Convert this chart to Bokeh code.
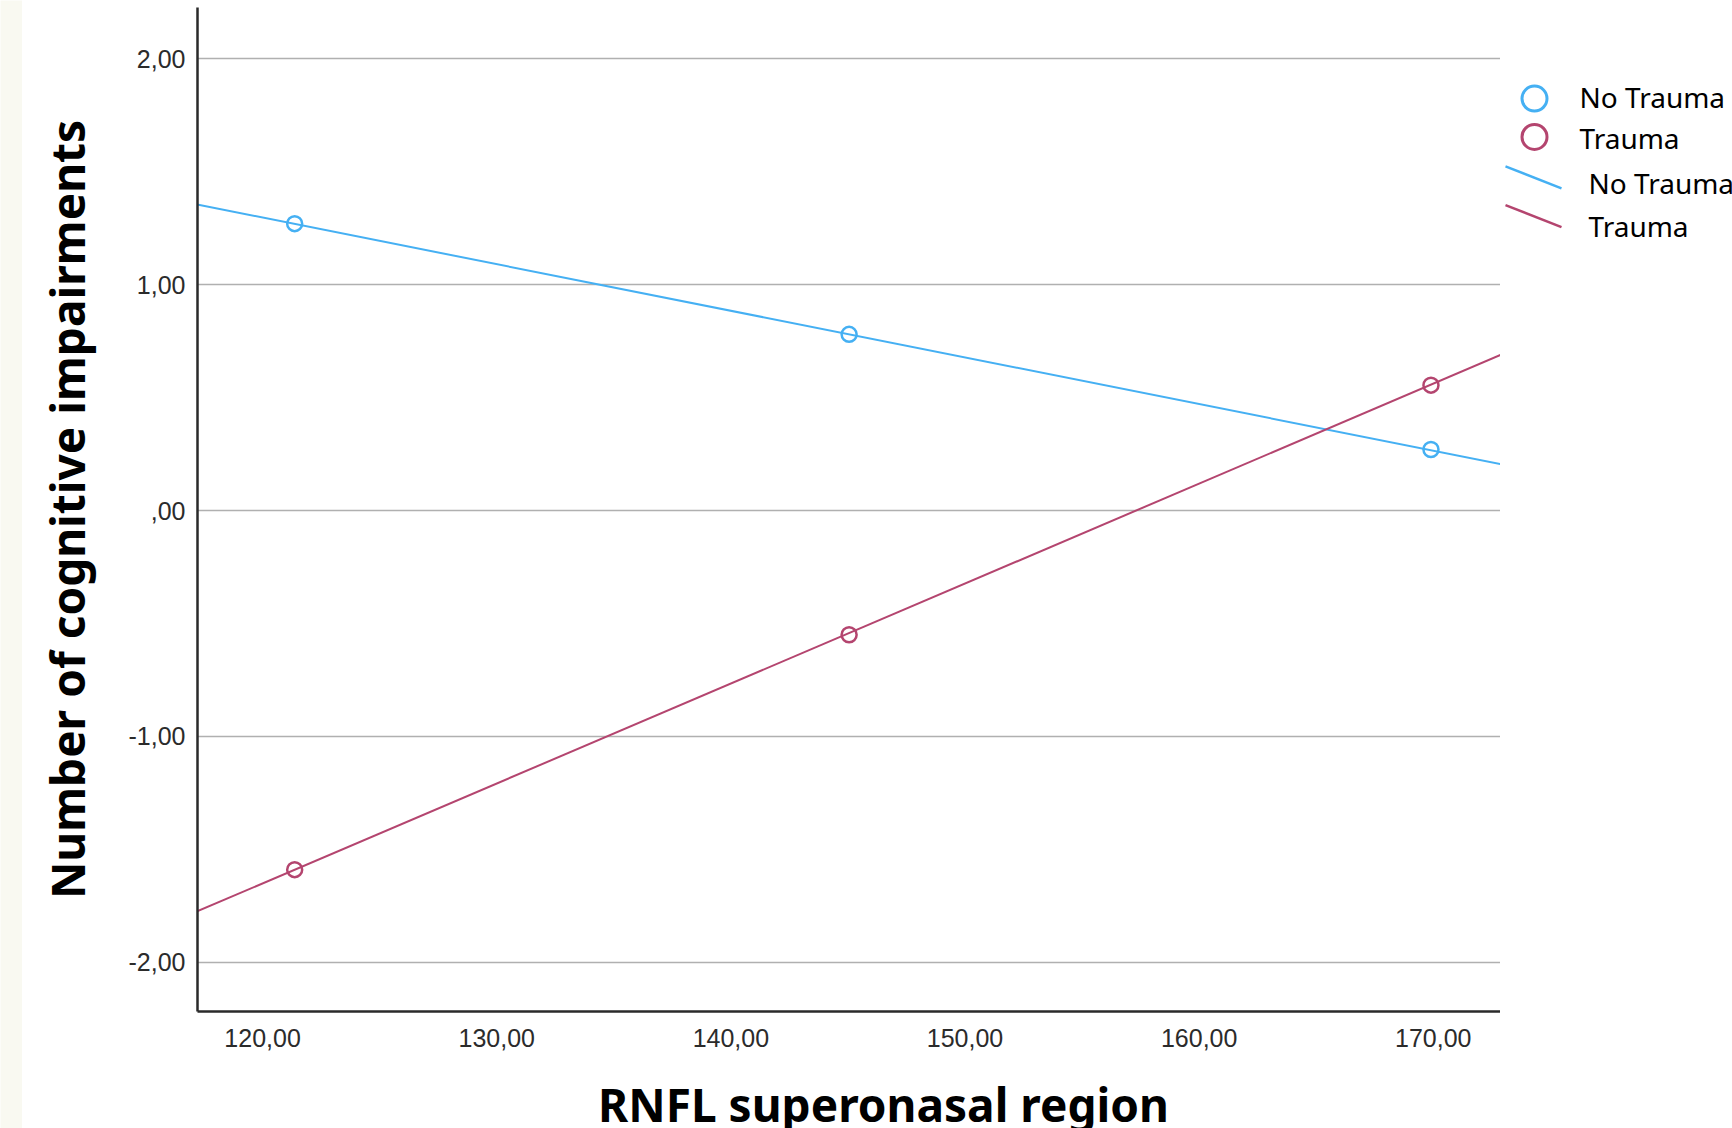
from bokeh.plotting import figure
from bokeh.models import Range1d, FixedTicker, CustomJSTickFormatter
from bokeh.layouts import row, column
from bokeh.embed import file_html
from bokeh.resources import INLINE
from bokeh.core.properties import value

# ---------------- data ----------------
x_points = [121.37, 145.05, 169.90]
no_trauma_y = [1.27, 0.78, 0.27]
trauma_y = [-1.59, -0.55, 0.555]
fit_x = [117.2, 172.9]
no_trauma_fit = [1.355, 0.205]
trauma_fit = [-1.775, 0.69]
x_ticks = [120, 130, 140, 150, 160, 170]
y_ticks = [-2, -1, 0, 1, 2]
groups = ["No Trauma", "Trauma"]
x_title = "RNFL superonasal region"
y_title = "Number of cognitive impairments"

# ---------------- style ----------------
BLUE = "#45b0f3"
RED = "#b4456f"
CREAM = "#f9f9f1"
TITLE_FONT = "Noto Sans"
TICK_FONT = "Liberation Sans"
H = 1128          # full height
TITLE_H = 63      # height of the strip holding the x title
MAIN_H = H - TITLE_H
TOP = 7
FRAME_BOTTOM = 1010.7

fmt = CustomJSTickFormatter(code="""
const s = tick.toFixed(2).replace('.', ',');
return s.replace(/^(-?)0,/, '$1,');
""")

y_range = Range1d(-2.218, 2.227)

p = figure(width=1478, height=MAIN_H,
           x_range=Range1d(117.22, 172.87), y_range=y_range,
           output_backend="svg", toolbar_location=None, title=None,
           min_border_left=175, min_border_right=0, min_border_top=TOP,
           min_border_bottom=round(MAIN_H - FRAME_BOTTOM))
p.frame_align = False
p.outline_line_color = None
p.background_fill_color = "white"
p.border_fill_color = "white"

for ax in (p.xaxis[0], p.yaxis[0]):
    ax.formatter = fmt
    ax.axis_line_color = "#2a2a2a"
    ax.axis_line_width = 2.5
    ax.major_tick_line_color = None
    ax.minor_tick_line_color = None
    ax.major_tick_out = 0
    ax.major_tick_in = 0
    ax.minor_tick_out = 0
    ax.minor_tick_in = 0
    ax.major_label_text_font = TICK_FONT
    ax.major_label_text_font_size = "25px"
    ax.major_label_text_color = "#2b2b2b"

p.xaxis.ticker = FixedTicker(ticks=x_ticks)
p.yaxis.ticker = FixedTicker(ticks=y_ticks)
p.xaxis.major_label_standoff = 17
p.yaxis.major_label_standoff = 12
p.yaxis.axis_label = y_title
p.yaxis.axis_label_text_font = TITLE_FONT
p.yaxis.axis_label_text_font_style = "bold"
p.yaxis.axis_label_text_font_size = "46px"
p.yaxis.axis_label_text_color = "black"
p.yaxis.axis_label_standoff = 28

p.xgrid.visible = False
p.ygrid.grid_line_color = "#b0b0b0"
p.ygrid.grid_line_width = 1.6

p.line(fit_x, no_trauma_fit, line_color=BLUE, line_width=2)
p.line(fit_x, trauma_fit, line_color=RED, line_width=2)
p.scatter(x_points, no_trauma_y, marker="circle", size=15, fill_color=None,
          line_color=BLUE, line_width=2.5)
p.scatter(x_points, trauma_y, marker="circle", size=15, fill_color=None,
          line_color=RED, line_width=2.5)

# ---------------- x title strip ----------------
tf = figure(width=1478, height=TITLE_H, x_range=Range1d(0, 1478), y_range=Range1d(0, TITLE_H),
            x_axis_location=None, y_axis_location=None,
            min_border_left=0, min_border_right=0, min_border_top=0, min_border_bottom=0,
            toolbar_location=None, output_backend="svg", title=None)
tf.frame_align = False
tf.outline_line_color = None
tf.grid.visible = False
tf.text(x=[861], y=[24.5], text=[x_title], text_font=value(TITLE_FONT),
        text_font_style="bold", text_font_size="46px", text_align="center",
        text_baseline="alphabetic", text_color="black")

# ---------------- legend panel (shares the y scale) ----------------
lg = figure(width=232, height=H, x_range=Range1d(0, 232), y_range=y_range,
            x_axis_location=None, y_axis_location=None,
            min_border_left=0, min_border_right=0,
            min_border_top=TOP, min_border_bottom=round(H - FRAME_BOTTOM),
            toolbar_location=None, output_backend="svg", title=None)
lg.frame_align = False
lg.outline_line_color = None
lg.grid.visible = False

lg.scatter(x=[34, 34], y=[1.824, 1.654], marker="circle", size=25, fill_color=None,
           line_color=[BLUE, RED], line_width=3)
lg.text(x=[79, 79], y=[1.832, 1.648], text=groups, text_font=value(TITLE_FONT),
        text_font_size="28px", text_baseline="middle", text_color="black")
lg.segment(x0=[5, 5], y0=[1.524, 1.352], x1=[61, 61], y1=[1.426, 1.255],
           line_color=[BLUE, RED], line_width=2.5)
lg.text(x=[88, 88], y=[1.451, 1.259], text=groups, text_font=value(TITLE_FONT),
        text_font_size="28px", text_baseline="middle", text_color="black")

# ---------------- cream strip at the left edge ----------------
strip = figure(width=22, height=H, x_axis_location=None, y_axis_location=None,
               min_border_left=0, min_border_right=0, min_border_top=0, min_border_bottom=0,
               toolbar_location=None, output_backend="svg", title=None)
strip.frame_align = False
strip.outline_line_color = None
strip.grid.visible = False
strip.background_fill_color = CREAM
strip.border_fill_color = CREAM

layout = row(strip, column(p, tf), lg)
open("out.html", "w").write(file_html(layout, INLINE))
